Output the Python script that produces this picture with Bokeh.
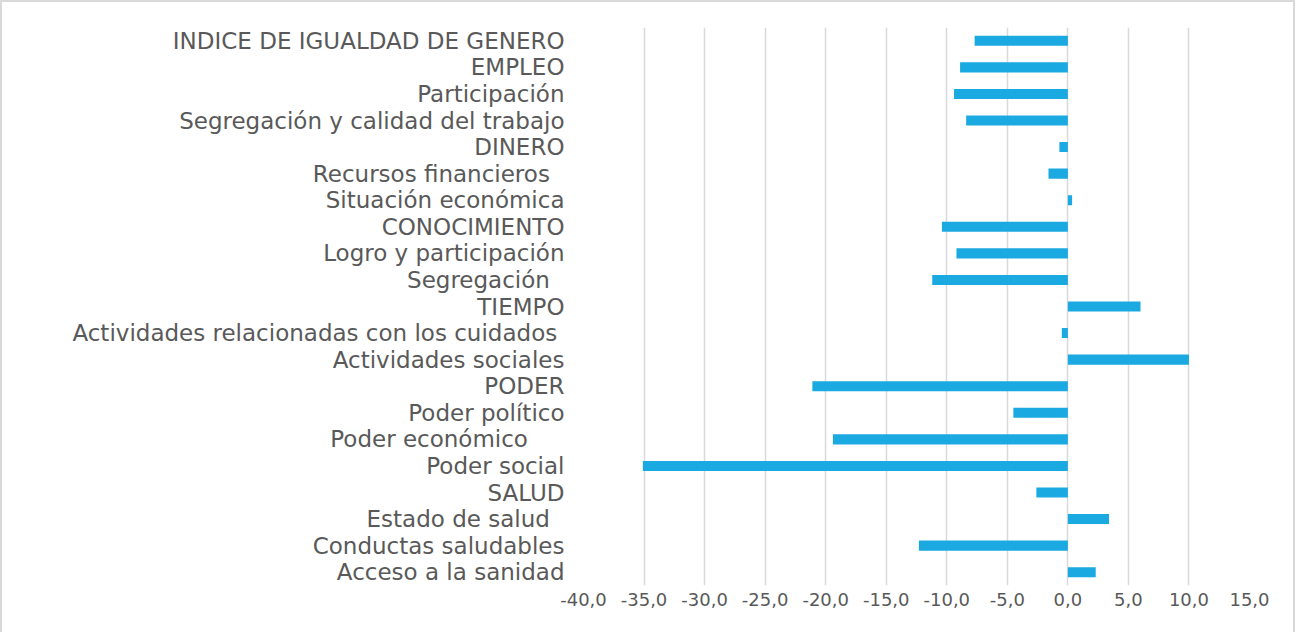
from bokeh.plotting import figure
from bokeh.models import FactorRange, Range1d, FixedTicker, ColumnDataSource
from bokeh.embed import file_html
from bokeh.resources import INLINE

NB = "\u00a0"
categories = [
    "INDICE DE IGUALDAD DE GENERO",
    "EMPLEO",
    "Participación",
    "Segregación y calidad del trabajo",
    "DINERO",
    "Recursos financieros" + NB * 2,
    "Situación económica",
    "CONOCIMIENTO",
    "Logro y participación",
    "Segregación" + NB * 2,
    "TIEMPO",
    "Actividades relacionadas con los cuidados" + NB,
    "Actividades sociales",
    "PODER",
    "Poder político",
    "Poder económico" + NB * 5,
    "Poder social",
    "SALUD",
    "Estado de salud" + NB * 2,
    "Conductas saludables",
    "Acceso a la sanidad",
]
values = [-7.7, -8.9, -9.4, -8.4, -0.7, -1.6, 0.35, -10.4, -9.2, -11.2, 6.0,
          -0.5, 10.0, -21.1, -4.5, -19.4, -35.1, -2.6, 3.4, -12.3, 2.3]
x_ticks = [-40, -35, -30, -25, -20, -15, -10, -5, 0, 5, 10, 15]
x_tick_labels = ["-40,0", "-35,0", "-30,0", "-25,0", "-20,0", "-15,0", "-10,0",
                 "-5,0", "0,0", "5,0", "10,0", "15,0"]

FONT = "DejaVu Sans"
TXT = "#595959"

src = ColumnDataSource(dict(cat=categories, val=values))

p = figure(
    width=1295, height=632,
    y_range=FactorRange(*reversed(categories)),
    x_range=Range1d(-40, 15),
    output_backend="svg", toolbar_location=None,
    min_border_left=581, min_border_right=48, min_border_top=25, min_border_bottom=49,
)
p.styles = {"border-top": "2px solid #d9d9d9", "border-left": "2px solid #d9d9d9",
            "border-right": "2px solid #d9d9d9"}
p.hbar(y="cat", left=0, right="val", height=0.38, source=src,
       fill_color="#1BA9E1", line_color=None)

p.outline_line_color = None
p.ygrid.grid_line_color = None
p.xgrid.grid_line_color = "#D9D9D9"
p.xgrid.grid_line_width = 1.5
p.xaxis.ticker = FixedTicker(ticks=x_ticks)
p.xaxis.major_label_overrides = {t: l for t, l in zip(x_ticks, x_tick_labels)}
for ax in (p.xaxis, p.yaxis):
    ax.axis_line_color = None
    ax.major_tick_line_color = None
    ax.minor_tick_line_color = None
    ax.major_tick_out = 0
    ax.major_tick_in = 0
    ax.major_label_text_color = TXT
    ax.major_label_text_font = FONT
p.yaxis.major_label_text_font_size = "23px"
p.yaxis.major_label_standoff = 19
p.xaxis.major_label_text_font_size = "18px"
p.xaxis.major_label_standoff = 7

open("out.html", "w").write(file_html(p, INLINE))
